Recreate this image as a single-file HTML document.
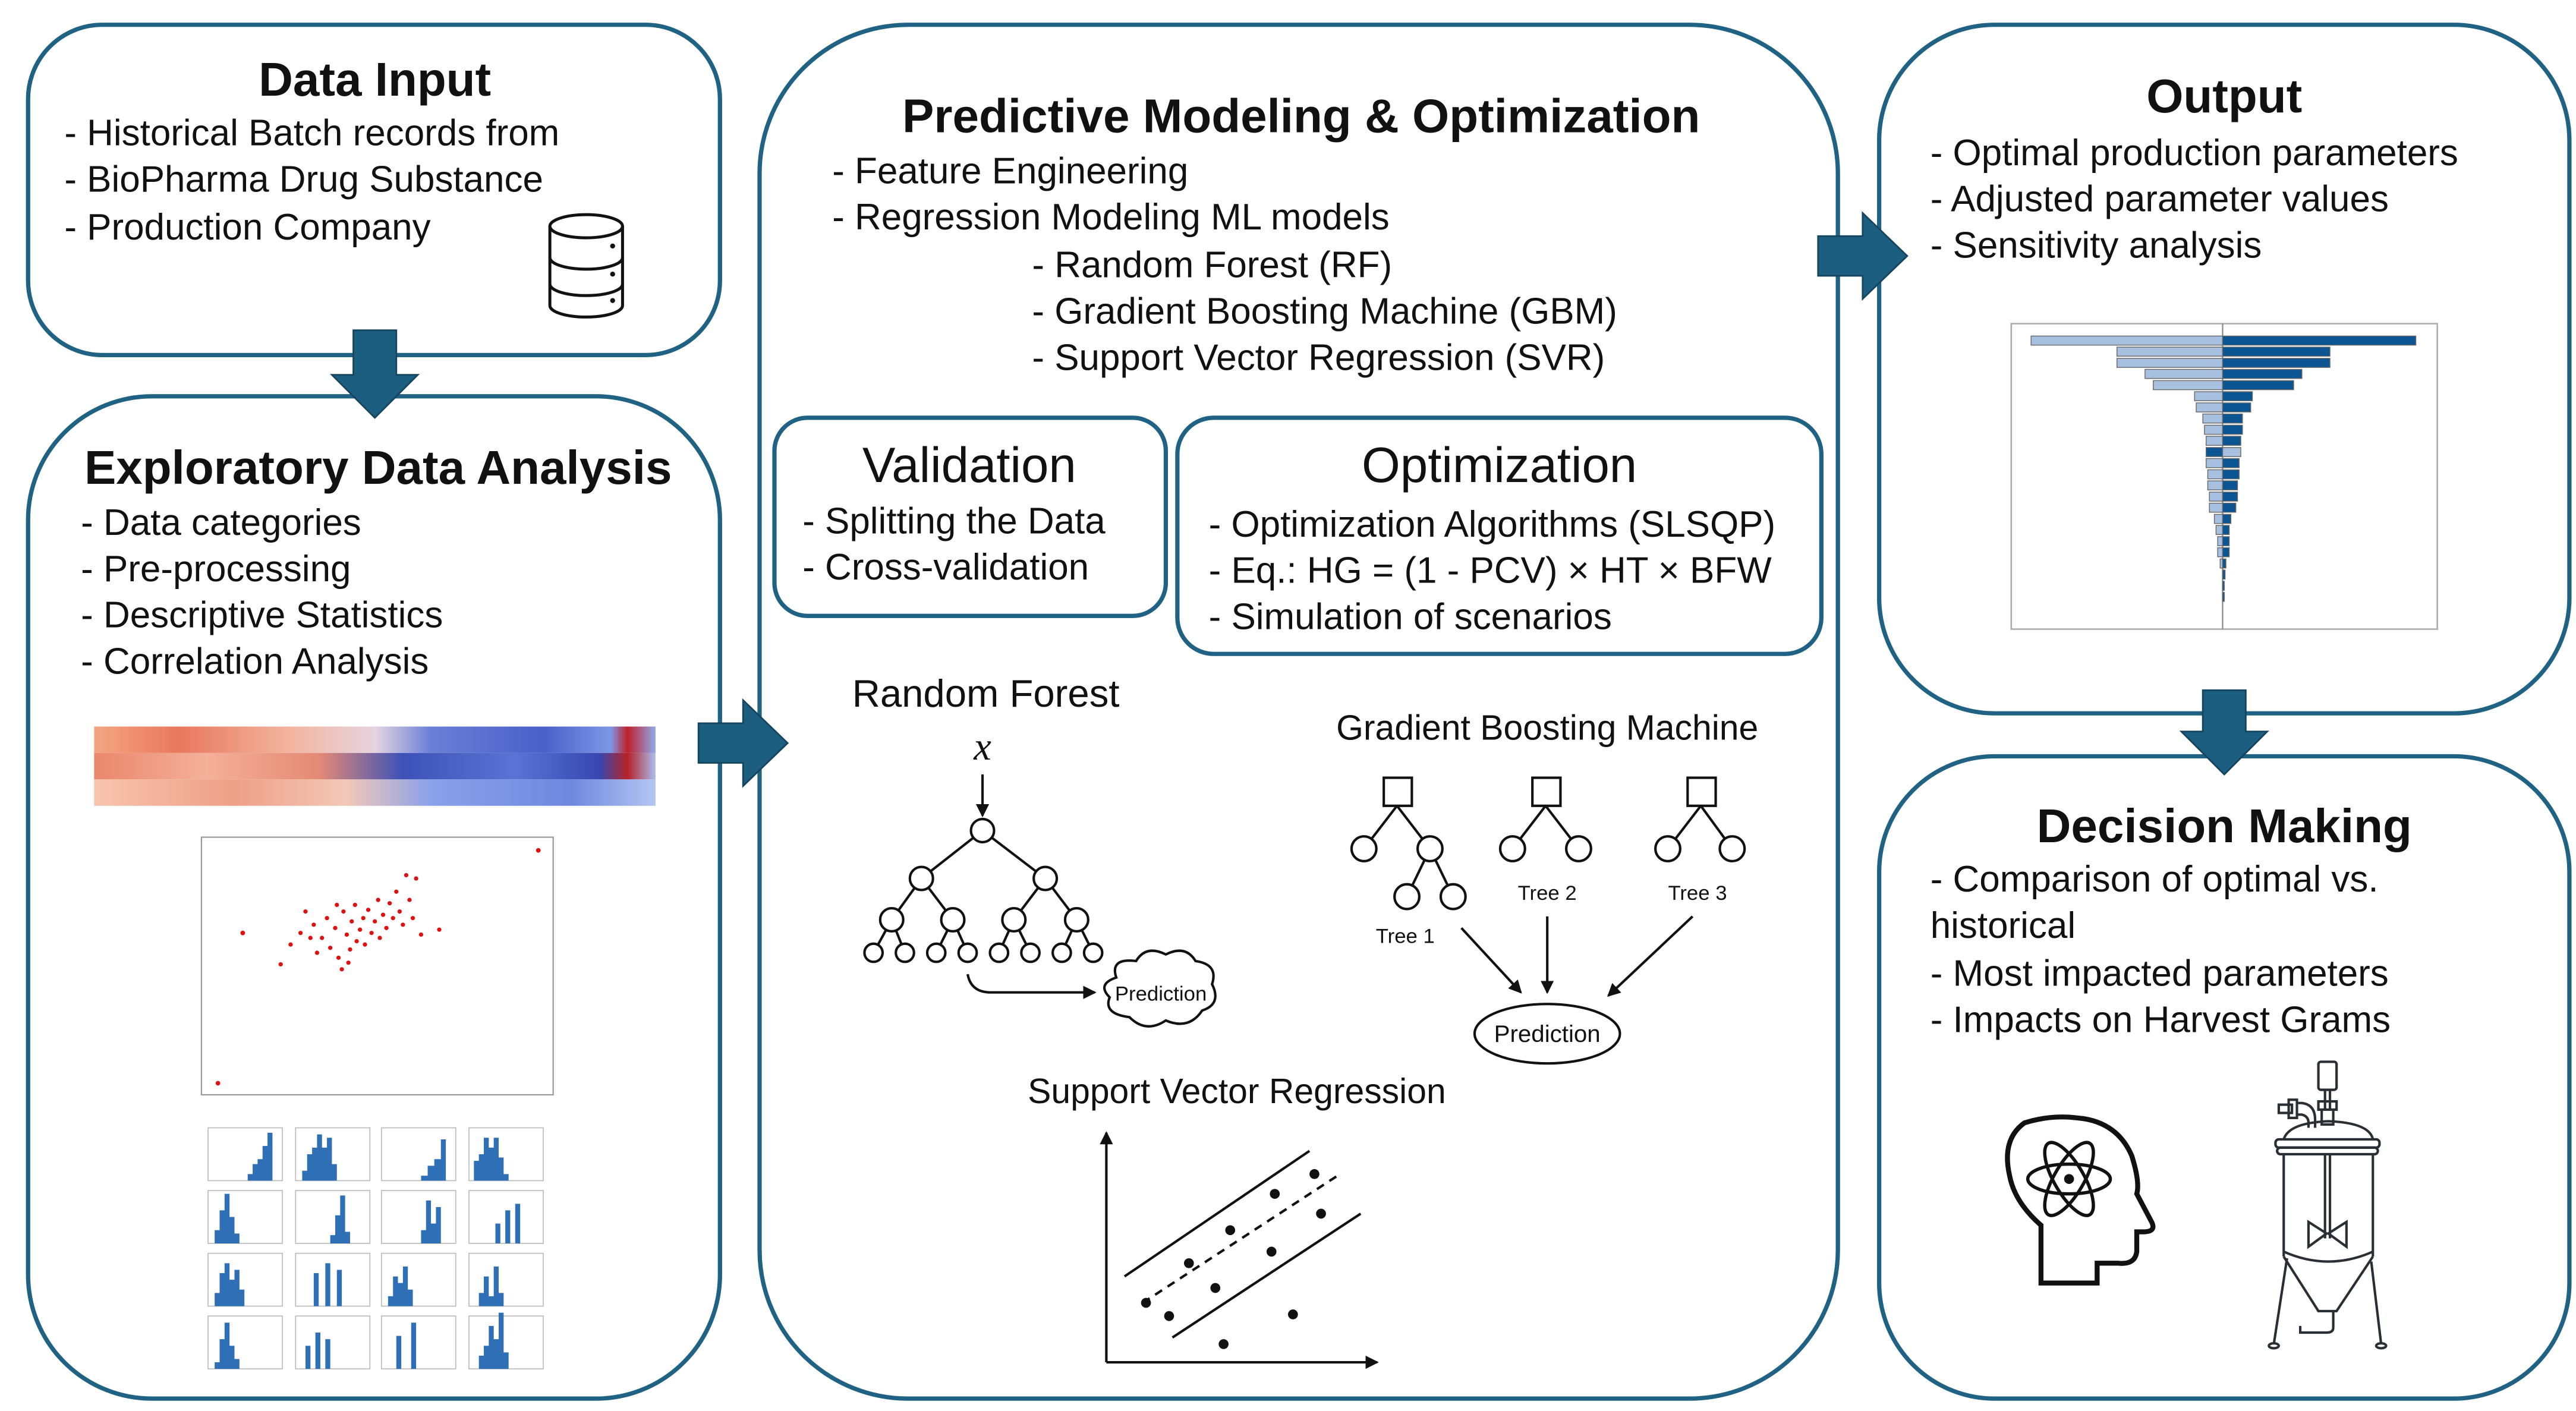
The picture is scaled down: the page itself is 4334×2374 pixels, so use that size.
<!DOCTYPE html>
<html><head><meta charset="utf-8"><style>
html,body{margin:0;padding:0;background:#fff;}
svg{display:block;}
text{font-family:"Liberation Sans",sans-serif;fill:#111;}
.b{font-size:22.3px;}
.t{font-size:28.8px;font-weight:bold;}
.st{font-size:30px;}
</style></head><body>
<svg width="4334" height="2374" viewBox="0 0 1560 854.5" xmlns="http://www.w3.org/2000/svg">
<defs>
<linearGradient id="h1" x1="0" x2="1"><stop offset="0" stop-color="#f4a582"/><stop offset="0.15" stop-color="#e8785e"/><stop offset="0.35" stop-color="#f2b5a0"/><stop offset="0.5" stop-color="#e6d4e0"/><stop offset="0.6" stop-color="#6b7fd6"/><stop offset="0.8" stop-color="#4a5fc8"/><stop offset="0.92" stop-color="#7d97e6"/><stop offset="0.95" stop-color="#c0202a"/><stop offset="1" stop-color="#8fa9ee"/></linearGradient>
<linearGradient id="h2" x1="0" x2="1"><stop offset="0" stop-color="#e9876c"/><stop offset="0.2" stop-color="#f4b09a"/><stop offset="0.4" stop-color="#e58a74"/><stop offset="0.55" stop-color="#3d52b8"/><stop offset="0.75" stop-color="#5b73d4"/><stop offset="0.9" stop-color="#3548b0"/><stop offset="0.95" stop-color="#b82228"/><stop offset="1" stop-color="#a9bdf0"/></linearGradient>
<linearGradient id="h3" x1="0" x2="1"><stop offset="0" stop-color="#f7c4ae"/><stop offset="0.25" stop-color="#eea088"/><stop offset="0.45" stop-color="#f2c8b8"/><stop offset="0.6" stop-color="#8aa1ea"/><stop offset="0.85" stop-color="#6f88de"/><stop offset="1" stop-color="#b4c6f2"/></linearGradient>
<marker id="ah" markerWidth="8" markerHeight="8" refX="7" refY="4" orient="auto" markerUnits="userSpaceOnUse"><path d="M0,0 L8,4 L0,8 z" fill="#111"/></marker>
</defs>
<g fill="none" stroke="#1f6283" stroke-width="2.6">
<rect x="17" y="15" width="419" height="200" rx="45"/>
<rect x="17" y="240" width="419" height="607" rx="75"/>
<rect x="460" y="15" width="653" height="832" rx="90"/>
<rect x="1138" y="15" width="418" height="417" rx="70"/>
<rect x="1138" y="458" width="418" height="389" rx="70"/>
<rect x="469" y="253" width="237" height="120" rx="20"/>
<rect x="713" y="253" width="390" height="143" rx="22"/>
</g>
<g fill="#1b5e80" stroke="#14445e" stroke-width="1">
<path d="M214,200 H240 V227 H253 L227,253 L201,227 H214 Z"/>
<path d="M423,438 H450 V424 L477,450 L450,476 V462 H423 Z"/>
<path d="M1101,143 H1128 V129 L1155,155 L1128,181 V167 H1101 Z"/>
<path d="M1334,418 H1360 V443 H1373 L1347,469 L1321,443 H1334 Z"/>
</g>
<!-- Data Input -->
<text class="t" x="227" y="58" text-anchor="middle">Data Input</text>
<text class="b" x="39" y="88">- Historical Batch records from</text>
<text class="b" x="39" y="116">- BioPharma Drug Substance</text>
<text class="b" x="39" y="145">- Production Company</text>
<g fill="none" stroke="#111" stroke-width="1.8">
<path d="M333,137 V185 A22,7 0 0 0 377,185 V137"/>
<ellipse cx="355" cy="137" rx="22" ry="7"/>
<path d="M333,156 A22,7 0 0 0 377,156 M333,172 A22,7 0 0 0 377,172"/>
</g>
<circle cx="371" cy="149" r="1.5" fill="#111"/><circle cx="371" cy="166" r="1.5" fill="#111"/><circle cx="371" cy="182" r="1.5" fill="#111"/>
<!-- EDA -->
<text class="t" x="229" y="293" text-anchor="middle">Exploratory Data Analysis</text>
<text class="b" x="49" y="324">- Data categories</text>
<text class="b" x="49" y="352">- Pre-processing</text>
<text class="b" x="49" y="380">- Descriptive Statistics</text>
<text class="b" x="49" y="408">- Correlation Analysis</text>
<rect x="57" y="440" width="340" height="16" fill="url(#h1)"/>
<rect x="57" y="456" width="340" height="16" fill="url(#h2)"/>
<rect x="57" y="472" width="340" height="16" fill="url(#h3)"/>
<rect x="122" y="507" width="213" height="156" fill="none" stroke="#999" stroke-width="0.8"/>
<g fill="#e01010">
<circle cx="326" cy="515" r="1.4"/><circle cx="132" cy="656" r="1.4"/><circle cx="147" cy="565" r="1.4"/>
<circle cx="170" cy="584" r="1.3"/><circle cx="176" cy="572" r="1.3"/><circle cx="182" cy="565" r="1.3"/><circle cx="185" cy="552" r="1.3"/><circle cx="190" cy="560" r="1.3"/><circle cx="192" cy="577" r="1.3"/><circle cx="195" cy="568" r="1.3"/><circle cx="198" cy="556" r="1.3"/><circle cx="200" cy="574" r="1.3"/><circle cx="203" cy="562" r="1.3"/><circle cx="205" cy="580" r="1.3"/><circle cx="207" cy="587" r="1.3"/><circle cx="208" cy="552" r="1.3"/><circle cx="210" cy="566" r="1.3"/><circle cx="212" cy="575" r="1.3"/><circle cx="213" cy="558" r="1.3"/><circle cx="215" cy="548" r="1.3"/><circle cx="216" cy="570" r="1.3"/><circle cx="218" cy="563" r="1.3"/><circle cx="220" cy="556" r="1.3"/><circle cx="221" cy="572" r="1.3"/><circle cx="223" cy="551" r="1.3"/><circle cx="225" cy="565" r="1.3"/><circle cx="227" cy="558" r="1.3"/><circle cx="229" cy="545" r="1.3"/><circle cx="230" cy="568" r="1.3"/><circle cx="232" cy="554" r="1.3"/><circle cx="234" cy="562" r="1.3"/><circle cx="236" cy="547" r="1.3"/><circle cx="238" cy="556" r="1.3"/><circle cx="240" cy="540" r="1.3"/><circle cx="242" cy="552" r="1.3"/><circle cx="244" cy="560" r="1.3"/><circle cx="246" cy="530" r="1.3"/><circle cx="248" cy="545" r="1.3"/><circle cx="250" cy="556" r="1.3"/><circle cx="252" cy="532" r="1.3"/><circle cx="255" cy="566" r="1.3"/><circle cx="266" cy="563" r="1.3"/><circle cx="211" cy="583" r="1.3"/><circle cx="204" cy="548" r="1.3"/><circle cx="188" cy="568" r="1.3"/>
</g>
<g fill="none" stroke="#bbb" stroke-width="0.6">
<rect x="126" y="683" width="45" height="32"/><rect x="179" y="683" width="45" height="32"/><rect x="231" y="683" width="45" height="32"/><rect x="284" y="683" width="45" height="32"/>
<rect x="126" y="721" width="45" height="32"/><rect x="179" y="721" width="45" height="32"/><rect x="231" y="721" width="45" height="32"/><rect x="284" y="721" width="45" height="32"/>
<rect x="126" y="759" width="45" height="32"/><rect x="179" y="759" width="45" height="32"/><rect x="231" y="759" width="45" height="32"/><rect x="284" y="759" width="45" height="32"/>
<rect x="126" y="797" width="45" height="32"/><rect x="179" y="797" width="45" height="32"/><rect x="231" y="797" width="45" height="32"/><rect x="284" y="797" width="45" height="32"/>
</g>
<g fill="#2f6fb5">
<path d="M150,715 v-4 h3 v-6 h3 v-3 h3 v-8 h3 v-8 h3 v29 z"/>
<path d="M183,715 v-6 h3 v-10 h3 v-4 h3 v-8 h3 v8 h3 v-6 h3 v16 h3 v10 z"/>
<path d="M255,715 v-3 h4 v-6 h4 v-4 h4 v-12 h3 v25 z"/>
<path d="M287,715 v-12 h3 v-4 h3 v-10 h3 v6 h3 v-6 h3 v12 h3 v10 h3 v4 z"/>
<path d="M130,753 v-8 h3 v-12 h3 v-10 h3 v14 h3 v10 h3 v6 z"/>
<path d="M200,753 v-5 h3 v-12 h3 v-12 h3 v22 h3 v7 z"/>
<path d="M255,753 v-8 h3 v-18 h3 v14 h3 v-10 h3 v22 z"/>
<path d="M300,753 v-12 h3 v12 h3 v-20 h3 v20 h3 v-24 h3 v24 z"/>
<path d="M130,791 v-8 h3 v-12 h3 v-6 h3 v10 h3 v-6 h3 v12 h3 v10 z"/>
<path d="M190,791 v-20 h3 v20 h4 v-26 h3 v26 h4 v-22 h3 v22 z"/>
<path d="M235,791 v-6 h3 v-12 h3 v4 h3 v-10 h3 v14 h3 v10 z"/>
<path d="M290,791 v-8 h3 v-10 h3 v12 h3 v-18 h3 v16 h3 v8 z"/>
<path d="M130,829 v-4 h3 v-14 h3 v-10 h3 v14 h3 v8 h3 v6 z"/>
<path d="M185,829 v-14 h3 v14 h3 v-22 h3 v22 h3 v-18 h3 v18 z"/>
<path d="M240,829 v-20 h3 v20 h6 v-28 h3 v28 z"/>
<path d="M290,829 v-8 h3 v-6 h3 v-12 h3 v8 h3 v-16 h3 v24 h3 v10 z"/>
</g>
<!-- Center -->
<text class="t" x="788" y="80" text-anchor="middle">Predictive Modeling &amp; Optimization</text>
<text class="b" x="504" y="111">- Feature Engineering</text>
<text class="b" x="504" y="139">- Regression Modeling ML models</text>
<text class="b" x="625" y="168">- Random Forest (RF)</text>
<text class="b" x="625" y="196">- Gradient Boosting Machine (GBM)</text>
<text class="b" x="625" y="224">- Support Vector Regression (SVR)</text>
<text class="st" x="587" y="292" text-anchor="middle">Validation</text>
<text class="b" x="486" y="323">- Splitting the Data</text>
<text class="b" x="486" y="351">- Cross-validation</text>
<text class="st" x="908" y="292" text-anchor="middle">Optimization</text>
<text class="b" x="732" y="325">- Optimization Algorithms (SLSQP)</text>
<text class="b" x="732" y="353">- Eq.: HG = (1 - PCV) × HT × BFW</text>
<text class="b" x="732" y="381">- Simulation of scenarios</text>
<!-- Random Forest -->
<text x="597" y="428" text-anchor="middle" style="font-size:23.5px">Random Forest</text>
<text x="595" y="460" text-anchor="middle" style="font-family:'Liberation Serif',serif;font-style:italic;font-size:24px">x</text>
<g stroke="#111" stroke-width="1.5" fill="none">
<line x1="595" y1="469" x2="595" y2="494" marker-end="url(#ah)"/>
<path d="M595,503 L558,532 M595,503 L633,532 M558,532 L540,557 M558,532 L577,557 M633,532 L614,557 M633,532 L652,557 M540,557 L529,577 M540,557 L548,577 M577,557 L567,577 M577,557 L586,577 M614,557 L605,577 M614,557 L624,577 M652,557 L643,577 M652,557 L662,577"/>
<g fill="#fff">
<circle cx="595" cy="503" r="7"/><circle cx="558" cy="532" r="7"/><circle cx="633" cy="532" r="7"/>
<circle cx="540" cy="557" r="7"/><circle cx="577" cy="557" r="7"/><circle cx="614" cy="557" r="7"/><circle cx="652" cy="557" r="7"/>
<circle cx="529" cy="577" r="5.5"/><circle cx="548" cy="577" r="5.5"/><circle cx="567" cy="577" r="5.5"/><circle cx="586" cy="577" r="5.5"/><circle cx="605" cy="577" r="5.5"/><circle cx="624" cy="577" r="5.5"/><circle cx="643" cy="577" r="5.5"/><circle cx="662" cy="577" r="5.5"/>
</g>
<path d="M586,590 Q588,601 600,601 L663,601" marker-end="url(#ah)"/>
<path d="M676,592 Q672,580 688,582 Q694,572 706,578 Q718,572 724,582 Q738,584 734,596 Q740,608 728,612 Q720,624 706,618 Q694,626 684,616 Q668,614 672,604 Q664,596 676,592 Z"/>
</g>
<text x="703" y="606" text-anchor="middle" style="font-size:12.5px">Prediction</text>
<!-- GBM -->
<text x="937" y="448" text-anchor="middle" style="font-size:21.2px">Gradient Boosting Machine</text>
<g stroke="#111" stroke-width="1.5" fill="#fff">
<path d="M846,488 L826,514 M846,488 L866,514 M866,514 L852,543 M866,514 L880,543 M936,488 L916,514 M936,488 L956,514 M1030,488 L1010,514 M1030,488 L1049,514" fill="none"/>
<rect x="838" y="471" width="17" height="17"/><rect x="928" y="471" width="17" height="17"/><rect x="1022" y="471" width="17" height="17"/>
<circle cx="826" cy="514" r="7.5"/><circle cx="866" cy="514" r="7.5"/><circle cx="852" cy="543" r="7.5"/><circle cx="880" cy="543" r="7.5"/>
<circle cx="916" cy="514" r="7.5"/><circle cx="956" cy="514" r="7.5"/><circle cx="1010" cy="514" r="7.5"/><circle cx="1049" cy="514" r="7.5"/>
<g fill="none">
<line x1="885" y1="562" x2="921" y2="601" marker-end="url(#ah)"/>
<line x1="937" y1="555" x2="937" y2="601" marker-end="url(#ah)"/>
<line x1="1025" y1="555" x2="974" y2="603" marker-end="url(#ah)"/>
<ellipse cx="937" cy="626" rx="44" ry="18"/>
</g>
</g>
<text x="851" y="571" text-anchor="middle" style="font-size:12.5px">Tree 1</text>
<text x="937" y="545" text-anchor="middle" style="font-size:12.5px">Tree 2</text>
<text x="1028" y="545" text-anchor="middle" style="font-size:12.5px">Tree 3</text>
<text x="937" y="631" text-anchor="middle" style="font-size:14.5px">Prediction</text>
<!-- SVR -->
<text x="749" y="668" text-anchor="middle" style="font-size:21.2px">Support Vector Regression</text>
<g stroke="#111" stroke-width="1.5" fill="none">
<line x1="670" y1="825" x2="670" y2="686" marker-end="url(#ah)"/>
<line x1="670" y1="825" x2="834" y2="825" marker-end="url(#ah)"/>
<line x1="681" y1="773" x2="793" y2="697"/>
<line x1="692" y1="789" x2="810" y2="712" stroke-dasharray="5,4"/>
<line x1="710" y1="810" x2="824" y2="735"/>
</g>
<g fill="#111">
<circle cx="694" cy="789" r="3"/><circle cx="708" cy="797" r="3"/><circle cx="720" cy="765" r="3"/><circle cx="736" cy="780" r="3"/><circle cx="745" cy="745" r="3"/><circle cx="772" cy="723" r="3"/><circle cx="796" cy="711" r="3"/><circle cx="770" cy="758" r="3"/><circle cx="800" cy="735" r="3"/><circle cx="783" cy="796" r="3"/><circle cx="741" cy="814" r="3"/>
</g>
<!-- Output -->
<text class="t" x="1347" y="68" text-anchor="middle">Output</text>
<text class="b" x="1169" y="100">- Optimal production parameters</text>
<text class="b" x="1169" y="128">- Adjusted parameter values</text>
<text class="b" x="1169" y="156">- Sensitivity analysis</text>
<rect x="1218" y="196" width="258" height="185" fill="none" stroke="#aaa" stroke-width="0.9"/>
<line x1="1346" y1="196" x2="1346" y2="381" stroke="#888" stroke-width="0.8"/>
<g stroke="#666" stroke-width="0.5">
<rect x="1230" y="203.5" width="116" height="5.5" fill="#a7c0e0"/><rect x="1346" y="203.5" width="117" height="5.5" fill="#0b5592"/>
<rect x="1282" y="210.2" width="64" height="5.5" fill="#a7c0e0"/><rect x="1346" y="210.2" width="65" height="5.5" fill="#0b5592"/>
<rect x="1282" y="217" width="64" height="5.5" fill="#a7c0e0"/><rect x="1346" y="217" width="65" height="5.5" fill="#0b5592"/>
<rect x="1299" y="223.7" width="47" height="5.5" fill="#a7c0e0"/><rect x="1346" y="223.7" width="48" height="5.5" fill="#0b5592"/>
<rect x="1304" y="230.5" width="42" height="5.5" fill="#a7c0e0"/><rect x="1346" y="230.5" width="43" height="5.5" fill="#0b5592"/>
<rect x="1329" y="237.2" width="17" height="5.5" fill="#a7c0e0"/><rect x="1346" y="237.2" width="18" height="5.5" fill="#0b5592"/>
<rect x="1330" y="244" width="16" height="5.5" fill="#a7c0e0"/><rect x="1346" y="244" width="17" height="5.5" fill="#0b5592"/>
<rect x="1334" y="250.7" width="12" height="5.5" fill="#a7c0e0"/><rect x="1346" y="250.7" width="12" height="5.5" fill="#0b5592"/>
<rect x="1335" y="257.5" width="11" height="5.5" fill="#a7c0e0"/><rect x="1346" y="257.5" width="12" height="5.5" fill="#0b5592"/>
<rect x="1336" y="264.2" width="10" height="5.5" fill="#a7c0e0"/><rect x="1346" y="264.2" width="11" height="5.5" fill="#0b5592"/>
<rect x="1336" y="271" width="10" height="5.5" fill="#0b5592"/><rect x="1346" y="271" width="11" height="5.5" fill="#a7c0e0"/>
<rect x="1336" y="277.7" width="10" height="5.5" fill="#a7c0e0"/><rect x="1346" y="277.7" width="10" height="5.5" fill="#0b5592"/>
<rect x="1337" y="284.5" width="9" height="5.5" fill="#a7c0e0"/><rect x="1346" y="284.5" width="10" height="5.5" fill="#0b5592"/>
<rect x="1337" y="291.2" width="9" height="5.5" fill="#a7c0e0"/><rect x="1346" y="291.2" width="9" height="5.5" fill="#0b5592"/>
<rect x="1338" y="298" width="8" height="5.5" fill="#a7c0e0"/><rect x="1346" y="298" width="9" height="5.5" fill="#0b5592"/>
<rect x="1338" y="304.7" width="8" height="5.5" fill="#a7c0e0"/><rect x="1346" y="304.7" width="8" height="5.5" fill="#0b5592"/>
<rect x="1341" y="311.5" width="5" height="5.5" fill="#a7c0e0"/><rect x="1346" y="311.5" width="5" height="5.5" fill="#0b5592"/>
<rect x="1342" y="318.2" width="4" height="5.5" fill="#a7c0e0"/><rect x="1346" y="318.2" width="4" height="5.5" fill="#0b5592"/>
<rect x="1343" y="325" width="3" height="5.5" fill="#a7c0e0"/><rect x="1346" y="325" width="4" height="5.5" fill="#0b5592"/>
<rect x="1343" y="331.7" width="3" height="5.5" fill="#a7c0e0"/><rect x="1346" y="331.7" width="4" height="5.5" fill="#0b5592"/>
<rect x="1344.5" y="338.5" width="1.5" height="5.5" fill="#a7c0e0"/><rect x="1346" y="338.5" width="2" height="5.5" fill="#0b5592"/>
<rect x="1346" y="345.2" width="1.5" height="5.5" fill="#0b5592"/>
<rect x="1346" y="352" width="1" height="5.5" fill="#0b5592"/>
<rect x="1346" y="358.7" width="1" height="5.5" fill="#0b5592"/>
</g>
<!-- Decision -->
<text class="t" x="1347" y="510" text-anchor="middle">Decision Making</text>
<text class="b" x="1169" y="540">- Comparison of optimal vs.</text>
<text class="b" x="1169" y="568">historical</text>
<text class="b" x="1169" y="597">- Most impacted parameters</text>
<text class="b" x="1169" y="625">- Impacts on Harvest Grams</text>
<!-- head -->
<g fill="none" stroke="#111" stroke-width="3">
<path d="M1236,777 V742 Q1220,728 1217,712 Q1212,690 1226,680 Q1242,675 1258,677 Q1282,679 1291,700 Q1296,716 1294,723 L1303,740 Q1306,746 1298,746 H1294 V758 Q1293,766 1283,765 H1270 V777 Z"/>
</g>
<g fill="none" stroke="#111" stroke-width="2">
<ellipse cx="1253" cy="714" rx="25" ry="9"/>
<ellipse cx="1253" cy="714" rx="25" ry="9" transform="rotate(60 1253 714)"/>
<ellipse cx="1253" cy="714" rx="25" ry="9" transform="rotate(-60 1253 714)"/>
</g>
<circle cx="1253" cy="714" r="3" fill="#111"/>
<!-- reactor -->
<g fill="none" stroke="#2a2f36" stroke-width="1.5">
<rect x="1404" y="643" width="11" height="17" rx="1.5"/>
<line x1="1408" y1="660" x2="1408" y2="672"/><line x1="1411" y1="660" x2="1411" y2="672"/>
<rect x="1404" y="667" width="11" height="5"/>
<path d="M1406,672 V681 H1413 V672"/>
<rect x="1380" y="669" width="8" height="5"/><rect x="1386" y="666" width="5" height="11"/>
<path d="M1391,668 H1394 Q1402,669 1402,678 V683 M1391,675 H1394 Q1398,676 1398,680 V683"/>
<path d="M1383,690 Q1386,680 1410,679 Q1435,680 1437,690"/>
<rect x="1378" y="690" width="63" height="5" rx="2"/>
<rect x="1379" y="695" width="61" height="4" rx="2"/>
<path d="M1383,699 V761 M1437,699 V761"/>
<path d="M1383,758 Q1410,770 1437,758"/>
<path d="M1383,761 L1404,794 H1415 L1437,761"/>
<line x1="1408" y1="699" x2="1408" y2="750"/><line x1="1411" y1="699" x2="1411" y2="750"/>
<path d="M1398,740 V755 L1409,747 Z M1421,740 V755 L1410,747 Z"/>
<path d="M1385,762 L1377,814 M1436,764 L1442,814"/>
<path d="M1413,794 V804 Q1413,807 1409,807 H1393 V803"/>
<ellipse cx="1377" cy="815" rx="3" ry="1.5"/><ellipse cx="1442" cy="815" rx="3" ry="1.5"/>
</g>
</svg>
</body></html>
